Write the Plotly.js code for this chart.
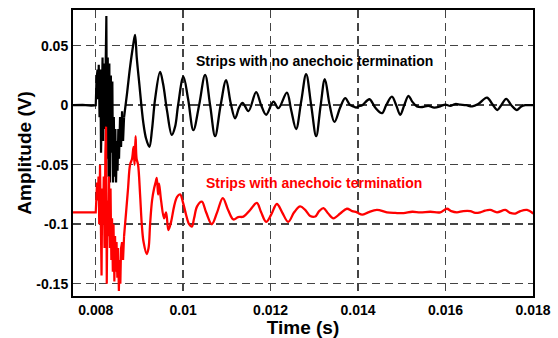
<!DOCTYPE html>
<html><head><meta charset="utf-8">
<script src="https://cdn.plot.ly/plotly-3.0.1.min.js"></script>
<style>html,body{margin:0;padding:0;background:#fff}#chart{width:558px;height:338px}</style>
</head><body><div id="chart"></div>
<script>
// Black trace: strips with no anechoic termination
const blackBurstT = [0.007481,0.0077,0.0079,0.00799,0.008,0.008018,0.008041,0.008053,0.008069,0.008087,0.008105,0.008121,0.008137,0.008156,0.008172,0.00819,0.008206,0.008224,0.008243,0.008259,0.008275,0.008293,0.008311,0.008327,0.008346,0.008362,0.00838,0.008396,0.008414,0.00843,0.008449,0.008465,0.008483,0.008499,0.008517,0.008533,0.008556,0.008579,0.008602,0.008625,0.008648];
const blackBurstV = [0,0.0003,-0.0003,0.0005,0,0.022,0.03,0.005,0.034,-0.01,0.03,-0.04,0.02,0.04,-0.03,0.035,-0.02,0.06,0.075,-0.045,0.04,-0.06,0.035,-0.065,0.025,-0.04,0.02,-0.065,-0.01,-0.06,-0.02,-0.065,-0.03,-0.055,-0.02,-0.045,-0.01,-0.035,-0.005,-0.03,-0.01];
const blackTailT = [0.008716,0.008785,0.008854,0.008899,0.008938,0.008991,0.009089,0.009151,0.009227,0.009288,0.009357,0.009471,0.00954,0.009632,0.009739,0.009815,0.009883,0.010005,0.010113,0.010233,0.010364,0.010501,0.010616,0.01073,0.010856,0.010982,0.011085,0.011188,0.011279,0.011359,0.011492,0.011668,0.011783,0.011897,0.012064,0.012178,0.012371,0.012469,0.012583,0.012698,0.012812,0.012927,0.013041,0.013144,0.01324,0.01335,0.01346,0.01359,0.013705,0.013819,0.013895,0.013957,0.014009,0.014094,0.014261,0.014391,0.014545,0.014643,0.014773,0.014872,0.014963,0.015055,0.015153,0.015238,0.015345,0.015467,0.015604,0.015741,0.015879,0.015993,0.016107,0.016222,0.016336,0.016474,0.016611,0.016748,0.016947,0.017068,0.017183,0.017274,0.017389,0.017503,0.017634,0.017732,0.017823,0.018006];
const blackTailV = [0.01,0.032,0.05,0.059,0.04,0.02,-0.015,-0.028,-0.035,-0.02,0.005,0.028,0.018,-0.005,-0.025,-0.018,0.0,0.024,0.005,-0.021,0.0,0.0255,0.0,-0.026,0.0,0.021,0.002,-0.011,-0.002,0.002,-0.005,0.011,0.0,-0.008,0.003,-0.0025,0.0106,-0.004,-0.02,0.003,0.026,0.0,-0.026,0.0,0.022,0.0,-0.014,-0.002,0.006,0.0,-0.001,-0.002,-0.001,0.0,0.005,-0.002,-0.0067,0.0,0.0072,0.0,-0.008,0.0,0.0078,0.003,-0.001,-0.0015,-0.0005,-0.002,-0.001,0.0005,-0.0005,0.001,0.0005,0.0,-0.001,0.001,0.0064,0.001,-0.004,0.0,0.0053,0.0,-0.004,-0.001,0.0,0.0];

// Red trace: strips with anechoic termination
const redBurstT = [0.007481,0.0077,0.0079,0.008,0.008018,0.00803,0.008048,0.008064,0.00808,0.008098,0.008117,0.008133,0.008149,0.008167,0.008183,0.008201,0.00822,0.008236,0.008252,0.00827,0.008288,0.008304,0.008323,0.008339,0.008357,0.008373,0.008391,0.008407,0.008426,0.008442,0.00846,0.008476,0.008494,0.00851,0.008529,0.008545,0.008563,0.008579,0.008602,0.008625,0.008648];
const redBurstV = [-0.09,-0.09,-0.09,-0.09,-0.075,-0.065,-0.08,-0.06,-0.1,-0.05,-0.1,-0.143,-0.07,-0.1,-0.06,-0.12,-0.04,-0.018,-0.15,-0.08,-0.11,-0.06,-0.12,-0.07,-0.13,-0.095,-0.14,-0.1,-0.148,-0.11,-0.14,-0.115,-0.145,-0.12,-0.156,-0.13,-0.15,-0.12,-0.115,-0.13,-0.11];
const redTailT = [0.008694,0.008739,0.008785,0.008831,0.008865,0.008888,0.008911,0.008934,0.008968,0.009014,0.009053,0.009094,0.009167,0.009208,0.009243,0.009288,0.009334,0.009368,0.009396,0.009426,0.009448,0.009494,0.009563,0.009609,0.009661,0.009723,0.009792,0.00986,0.009929,0.009998,0.010066,0.010135,0.010197,0.010249,0.010318,0.010426,0.010524,0.010654,0.010776,0.010906,0.011027,0.011149,0.011256,0.011378,0.011531,0.011684,0.011783,0.011897,0.012012,0.012142,0.012263,0.012401,0.012538,0.012675,0.01279,0.012904,0.013019,0.01311,0.013208,0.013316,0.013437,0.01359,0.013743,0.013865,0.013972,0.014094,0.014231,0.01443,0.014659,0.014849,0.015039,0.015238,0.015421,0.01565,0.015879,0.016032,0.01613,0.01626,0.016405,0.016565,0.01668,0.016794,0.016908,0.017023,0.017176,0.017366,0.01748,0.017595,0.01771,0.017863,0.018007];
const redTailV = [-0.09,-0.07,-0.05,-0.045,-0.035,-0.05,-0.026,-0.045,-0.05,-0.075,-0.1,-0.115,-0.125,-0.12,-0.1,-0.08,-0.07,-0.065,-0.061,-0.075,-0.066,-0.08,-0.095,-0.09,-0.105,-0.098,-0.085,-0.077,-0.075,-0.082,-0.092,-0.1,-0.102,-0.095,-0.085,-0.081,-0.09,-0.1,-0.09,-0.078,-0.088,-0.096,-0.094,-0.0936,-0.088,-0.082,-0.09,-0.098,-0.092,-0.083,-0.09,-0.098,-0.09,-0.085,-0.088,-0.093,-0.0935,-0.089,-0.0865,-0.091,-0.095,-0.091,-0.087,-0.089,-0.09,-0.092,-0.09,-0.088,-0.09,-0.0905,-0.0907,-0.0895,-0.09,-0.0895,-0.09,-0.087,-0.089,-0.09,-0.089,-0.089,-0.0905,-0.09,-0.0885,-0.088,-0.09,-0.088,-0.0905,-0.091,-0.089,-0.088,-0.091];

const xTicks = [0.008,0.01,0.012,0.014,0.016,0.018];
const xTickLabels = ['0.008','0.01','0.012','0.014','0.016','0.018'];
const yTicks = [0.05,0,-0.05,-0.1,-0.15];
const yTickLabels = ['0.05','0','-0.05','-0.1','-0.15'];
const labelNo = 'Strips with no anechoic termination';
const labelAn = 'Strips with anechoic termination';

const F = 'Liberation Sans, Arial, sans-serif';
const traces = [
  {x: blackBurstT, y: blackBurstV, mode:'lines', line:{color:'#000', width:2.2}, hoverinfo:'skip'},
  {x: blackBurstT.slice(-1).concat(blackTailT), y: blackBurstV.slice(-1).concat(blackTailV), mode:'lines', line:{color:'#000', width:2.3, shape:'spline', smoothing:1}, hoverinfo:'skip'},
  {x: redBurstT, y: redBurstV, mode:'lines', line:{color:'#ff0000', width:2.2}, hoverinfo:'skip'},
  {x: redBurstT.slice(-1).concat(redTailT), y: redBurstV.slice(-1).concat(redTailV), mode:'lines', line:{color:'#ff0000', width:2.3, shape:'spline', smoothing:1}, hoverinfo:'skip'}
];
const axisCommon = {
  showline:true, mirror:true, linecolor:'#000', linewidth:2,
  showgrid:true, gridcolor:'#444', gridwidth:1.5, griddash:'8px,5px',
  zeroline:false, ticks:'', tickfont:{family:F, size:14, color:'#000', weight:'bold'}
};
const layout = {
  width:558, height:338, margin:{l:73, r:25, t:10, b:42},
  paper_bgcolor:'#fff', plot_bgcolor:'#fff', showlegend:false,
  xaxis: Object.assign({}, axisCommon, {range:[0.00748,0.018], tickvals:xTicks, ticktext:xTickLabels,
    title:{text:'Time (s)', font:{family:F, size:19, color:'#000', weight:'bold'}, standoff:4}}),
  yaxis: Object.assign({}, axisCommon, {range:[-0.1603,0.080], tickvals:yTicks, ticktext:yTickLabels,
    title:{text:'Amplitude (V)', font:{family:F, size:19, color:'#000', weight:'bold'}, standoff:0}}),
  annotations:[
    {x:0.012995, y:0.0372, xref:'x', yref:'y', text:labelNo, showarrow:false, font:{family:F, size:14, color:'#000', weight:'bold'}},
    {x:0.012995, y:-0.0657, xref:'x', yref:'y', text:labelAn, showarrow:false, font:{family:F, size:14, color:'#ff0000', weight:'bold'}}
  ]
};
Plotly.newPlot('chart', traces, layout, {staticPlot:true, displayModeBar:false});
</script></body></html>
